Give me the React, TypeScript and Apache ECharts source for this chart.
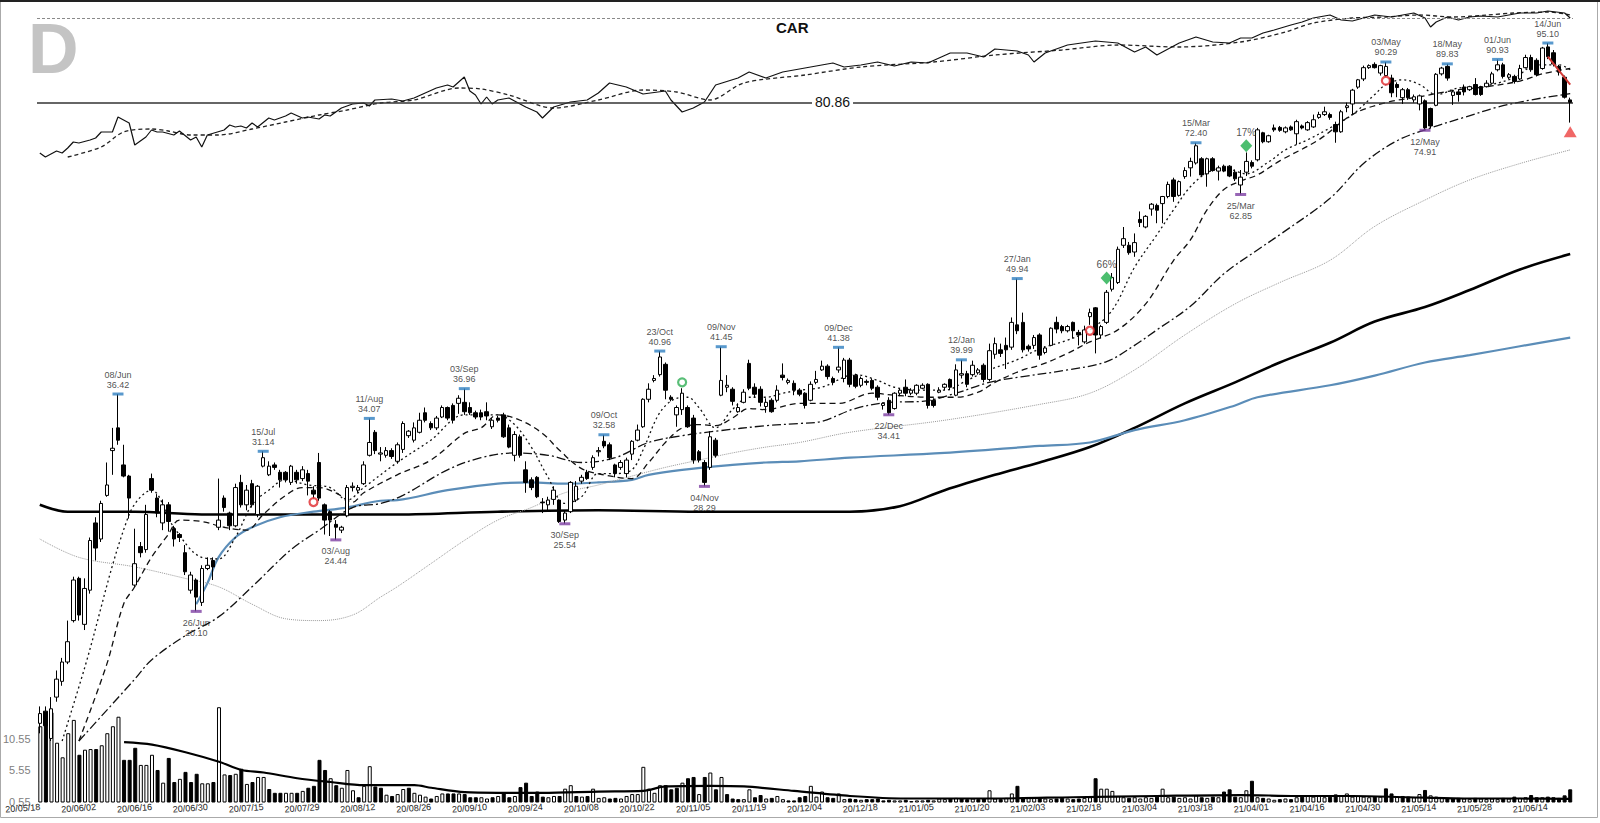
import React, { useEffect, useRef } from "react";
import * as echarts from "echarts";

const TICKER = "CAR";
const LAST_CLOSE = 80.86;
const HOLIDAYS = ["2020-05-25", "2020-07-03", "2020-09-07", "2020-11-26", "2020-12-25", "2021-01-01", "2021-01-18", "2021-02-15", "2021-04-02", "2021-05-31"];
const MONTHS = ["Jan", "Feb", "Mar", "Apr", "May", "Jun", "Jul", "Aug", "Sep", "Oct", "Nov", "Dec"];

// daily candles: [open, close, low, high]
const CANDLES: number[][] = [
  [14.8,15.2,14.4,15.5],[15.3,14.7,14.3,15.5],[14.2,15.4,14.1,15.9],[15.9,16.7,15.7,17.1],[16.6,17.5,16.4,17.7],
  [17.5,18.5,17.4,19.6],[19.6,21.9,19.5,22.1],[22.0,19.9,19.6,22.1],[19.4,21.4,19.1,22.0],[21.3,24.4,21.1,24.6],
  [25.6,23.9,23.1,26.0],[24.5,27.0,24.3,27.2],[27.6,28.4,27.5,30.2],[31.2,31.4,29.2,33.2],[33.2,32.1,31.7,36.42],
  [30.0,29.1,29.0,31.7],[29.1,27.4,25.9,29.2],[21.6,22.9,21.5,25.2],[24.0,23.6,23.3,24.3],[23.8,26.2,23.6,26.9],
  [28.9,28.0,27.8,29.3],[27.4,26.3,26.0,27.7],[25.6,26.9,25.1,27.3],[26.9,25.7,25.0,27.1],[25.2,24.5,24.0,25.4],
  [24.8,24.6,24.3,24.9],[23.6,22.4,22.2,24.1],[21.3,22.2,21.1,22.4],[21.9,20.9,20.1,22.0],[20.6,22.6,20.4,22.8],
  [22.6,22.8,22.5,23.3],[23.1,22.7,21.9,23.3],[25.3,25.8,25.1,28.9],[27.4,26.7,26.4,27.6],[26.3,25.4,25.1,26.4],
  [25.4,28.2,25.3,28.5],[28.6,26.9,26.7,29.2],[26.9,28.0,26.5,28.4],[28.5,26.9,26.7,28.8],[26.2,28.3,26.0,28.4],
  [29.9,30.6,29.8,31.14],[29.2,29.9,29.1,30.3],[30.0,29.8,29.6,30.2],[29.4,28.8,28.2,29.6],[29.4,28.8,28.6,29.5],
  [28.6,29.9,28.4,30.0],[29.4,28.8,28.5,29.6],[28.9,29.6,28.7,29.9],[29.3,28.7,27.6,29.6],[28.0,27.7,27.3,28.3],
  [30.2,27.4,27.2,31.0],[26.9,25.8,24.8,27.0],[26.4,25.8,24.7,26.5],[25.5,25.3,24.44,25.8],[25.1,25.3,24.9,25.4],
  [26.1,28.2,26.0,28.4],[28.2,28.3,27.9,28.6],[28.0,28.2,27.8,28.4],[28.5,30.0,28.4,30.3],[30.8,31.9,30.7,34.07],
  [32.8,31.2,30.9,33.0],[30.9,31.0,30.3,31.5],[30.8,31.2,30.6,31.5],[31.2,30.7,30.5,31.4],[30.3,31.7,30.1,31.9],
  [31.3,33.6,31.0,33.8],[32.5,32.9,32.3,33.0],[32.1,33.2,31.9,33.7],[32.8,33.9,32.7,34.6],[34.6,33.9,33.7,35.1],
  [33.6,33.2,33.0,33.8],[33.2,34.1,33.0,34.3],[34.2,35.1,34.1,35.3],[35.1,34.1,33.9,35.2],[35.3,33.9,33.6,35.5],
  [35.5,36.0,34.5,36.3],[35.6,34.7,34.4,36.96],[35.1,34.6,34.4,35.6],[34.6,34.2,34.0,34.8],[34.6,34.2,33.9,34.9],
  [34.7,34.3,33.9,35.6],[33.3,33.9,33.1,34.1],[34.1,33.9,33.7,34.3],[34.4,32.4,32.3,34.6],[33.2,31.5,31.4,33.5],
  [30.8,32.6,30.3,32.9],[32.4,30.8,30.6,32.6],[29.6,28.6,27.8,30.3],[28.8,28.2,28.0,29.0],[29.0,27.5,27.4,29.1],
  [27.1,27.05,26.3,27.4],[26.9,27.25,26.5,27.5],[27.3,28.0,26.9,28.3],[27.25,25.7,25.6,27.3],[25.8,26.3,25.54,26.5],
  [26.4,28.6,26.3,28.7],[27.25,28.3,27.1,28.7],[28.7,29.0,28.5,29.2],[29.4,28.9,28.8,29.6],[29.8,30.6,29.6,30.8],
  [31.1,31.2,30.7,31.5],[32.0,31.6,31.4,32.58],[31.7,30.6,30.4,31.9],[30.0,29.3,29.0,30.1],[29.8,30.2,29.6,30.4],
  [29.3,30.4,29.0,30.6],[30.9,32.0,30.4,32.1],[32.1,33.0,32.0,33.5],[33.3,35.9,33.2,36.0],[35.9,36.9,35.6,37.5],
  [37.8,38.0,37.6,38.35],[38.4,40.3,38.2,40.96],[39.5,36.8,35.9,39.7],[36.1,35.9,35.7,36.3],[34.4,35.1,33.3,35.3],
  [34.9,36.5,34.4,37.0],[35.1,33.3,33.2,35.3],[34.1,30.4,30.1,34.4],[31.1,30.4,30.2,31.25],[30.2,28.6,28.29,30.4],
  [29.8,32.4,29.6,32.9],[32.1,30.8,30.6,32.3],[36.3,37.8,36.2,41.45],[37.1,37.3,36.6,38.35],[36.9,35.7,35.3,37.1],
  [34.7,35.1,34.6,35.5],[35.6,36.6,35.5,36.9],[39.6,37.0,36.8,40.0],[37.1,36.4,36.1,37.5],[36.9,35.6,35.2,37.2],
  [35.2,35.6,34.6,36.0],[35.8,34.7,34.6,36.0],[35.8,36.8,35.6,37.3],[38.35,38.1,37.8,39.6],[37.6,37.8,37.4,38.0],
  [37.5,36.8,36.3,37.8],[36.8,36.4,36.2,37.0],[36.5,35.3,35.0,36.6],[35.8,37.4,35.7,37.7],[37.6,37.9,37.4,38.8],
  [38.9,39.3,38.8,39.9],[39.3,38.2,37.9,39.5],[38.0,37.6,37.3,38.2],[38.9,39.2,38.6,41.38],[38.0,39.96,37.6,40.2],
  [39.96,37.4,37.1,40.2],[38.35,37.2,37.0,38.5],[37.3,38.0,37.1,38.2],[37.7,37.6,37.3,37.9],[37.8,37.0,36.8,38.0],
  [37.1,36.1,35.8,37.3],[35.3,35.5,34.9,35.6],[35.8,34.6,34.41,36.1],[35.0,36.5,34.9,36.6],[36.5,36.8,36.2,37.0],
  [37.1,36.5,36.2,37.9],[36.5,36.8,36.3,37.0],[36.5,37.3,36.3,37.4],[37.0,37.3,36.9,37.5],[37.4,35.3,35.0,37.5],
  [35.8,35.3,35.1,36.0],[36.6,36.8,36.5,37.1],[37.1,37.4,36.8,37.5],[37.9,37.1,36.8,38.0],[36.3,38.9,36.2,39.5],
  [38.35,38.5,38.0,39.99],[38.5,37.4,37.1,38.8],[38.4,39.4,38.2,39.9],[38.6,38.9,38.4,39.1],[39.4,37.9,37.6,39.6],
  [37.9,41.0,37.7,41.8],[40.6,41.8,40.1,42.5],[41.1,40.7,40.3,41.8],[41.6,41.1,39.0,42.5],[41.4,44.3,41.1,44.9],
  [44.0,43.3,42.9,49.94],[44.3,41.1,40.8,45.5],[41.5,41.2,40.9,41.7],[41.6,42.5,41.2,42.8],[42.8,40.5,40.0,43.0],
  [40.8,41.3,40.6,41.5],[41.6,43.6,41.5,43.7],[44.3,43.5,43.0,45.0],[43.8,43.3,43.0,44.0],[43.3,43.8,43.1,44.0],
  [44.3,43.3,42.4,44.4],[43.1,42.8,41.6,43.4],[42.0,43.4,41.8,43.9],[45.0,45.5,44.0,46.0],[46.1,42.8,40.7,46.2],
  [42.8,43.8,42.4,44.0],[44.3,48.1,44.1,48.4],[48.5,50.1,48.2,50.7],[49.4,54.1,49.2,54.5],[54.7,55.7,54.3,57.5],
  [54.7,53.6,53.3,55.2],[53.7,55.1,53.0,56.5],[58.7,58.2,57.5,60.0],[57.5,59.2,57.3,59.4],[60.4,61.2,59.3,61.4],
  [61.0,60.2,58.1,61.3],[61.3,62.5,58.1,62.6],[62.5,64.6,62.2,65.1],[65.4,62.5,61.6,65.8],[62.7,65.1,62.5,65.3],
  [66.0,67.1,65.6,67.7],[67.6,68.8,66.0,69.5],[68.5,71.8,68.2,72.40],[69.3,66.3,66.1,69.6],[66.5,69.3,64.2,69.5],
  [69.3,67.1,66.9,69.6],[67.0,67.6,65.3,68.0],[67.9,67.0,66.8,68.2],[67.9,66.1,65.9,68.1],[66.8,65.6,65.2,67.3],
  [64.5,65.9,62.85,67.2],[66.8,68.8,66.1,70.5],[68.6,67.9,67.5,69.0],[69.1,75.0,68.8,75.4],[74.4,72.6,72.3,74.6],
  [72.6,73.8,72.4,74.0],[75.4,75.0,74.6,76.1],[75.5,74.9,74.6,75.8],[74.6,75.4,74.3,75.7],[75.6,75.0,74.8,75.9],
  [74.2,76.7,72.0,77.1],[75.8,75.4,75.1,76.1],[75.0,76.5,74.8,76.8],[75.6,77.1,75.4,78.2],[77.6,78.2,77.3,78.8],
  [78.2,78.8,77.9,79.9],[78.2,77.6,77.1,78.6],[76.1,74.6,72.4,76.7],[74.6,78.8,74.4,79.2],[79.7,80.1,78.7,80.8],
  [80.5,83.6,78.2,83.9],[84.3,86.0,83.9,86.2],[86.2,88.9,85.7,89.4],[88.9,89.4,88.6,89.7],[89.7,88.9,88.7,90.2],
  [87.6,89.4,87.0,89.6],[87.0,89.2,86.5,90.29],[86.4,83.0,82.0,87.2],[84.9,84.2,82.0,85.4],[81.9,83.7,80.5,84.1],
  [83.7,81.9,81.4,84.1],[81.4,82.1,80.8,82.6],[80.5,82.3,79.1,82.6],[81.2,75.4,74.91,81.5],[79.5,75.8,75.3,79.7],
  [80.2,87.3,80.0,87.6],[87.4,88.8,87.0,89.1],[89.2,86.4,85.8,89.83],[82.4,83.2,80.3,83.7],[83.2,82.6,81.0,83.7],
  [84.3,83.2,82.4,84.9],[83.7,84.4,83.4,84.6],[84.9,82.6,82.4,86.4],[84.4,82.6,82.3,84.6],[84.4,85.2,84.2,85.9],
  [85.2,87.4,84.9,87.9],[88.4,89.6,88.0,90.93],[89.6,86.8,86.3,90.1],[86.6,87.2,86.2,87.6],[86.8,85.6,85.1,87.2],
  [86.2,88.7,85.9,89.6],[88.9,91.4,88.7,92.1],[91.4,88.4,87.9,92.1],[90.7,87.2,86.8,91.2],[88.7,93.8,88.4,94.1],
  [94.1,91.6,91.0,95.10],[92.6,89.8,89.2,93.3],[89.2,87.8,87.0,89.6],[86.6,82.0,81.7,87.0],[81.4,80.86,76.5,81.9],
];

// daily volume (millions)
const VOLUME: number[] = [
  12.5,13.0,14.7,9.9,7.6,11.4,13.5,8.0,8.8,8.9,
  8.9,9.5,11.4,12.5,14.0,7.2,7.2,9.1,6.4,6.4,
  8.0,5.6,3.6,7.5,3.7,4.2,5.3,3.7,5.0,3.5,
  3.5,3.7,15.5,4.9,4.8,5.0,5.8,3.4,3.7,4.5,
  4.5,2.6,2.0,2.0,2.0,2.0,2.0,2.3,2.8,3.1,
  7.2,5.6,4.3,3.2,2.8,5.6,2.4,1.3,3.1,6.2,
  3.0,2.8,1.7,1.5,1.8,2.6,2.8,2.0,1.7,1.4,
  1.1,1.5,1.9,1.9,1.9,1.9,1.8,1.3,1.3,1.3,
  1.1,1.3,1.5,1.9,1.3,1.5,2.9,3.6,1.5,2.2,
  1.4,1.3,1.5,1.5,2.65,3.2,1.5,1.4,1.5,2.65,
  1.2,1.3,1.1,1.2,1.1,1.5,1.8,1.8,6.1,2.65,
  2.0,3.2,3.2,2.55,2.8,3.6,4.3,4.5,1.8,4.5,
  5.2,2.55,4.5,1.8,1.1,1.0,1.0,2.55,1.3,1.65,
  1.1,1.2,1.5,1.0,0.8,0.8,1.3,1.5,3.1,1.4,
  2.2,1.3,1.2,1.9,1.0,1.1,1.0,0.9,1.0,1.0,
  1.1,0.8,0.9,0.8,0.8,0.9,0.7,0.8,0.8,0.9,
  0.8,1.1,1.0,1.1,1.2,1.1,1.0,1.1,1.0,1.1,
  2.4,1.1,1.0,1.2,1.9,3.1,1.2,1.2,1.3,1.2,
  1.1,1.0,1.1,1.2,1.1,1.0,1.1,1.2,1.3,4.3,
  2.65,2.65,2.3,1.5,1.3,1.2,1.3,1.1,1.3,1.2,
  1.4,2.65,1.3,1.4,1.2,1.3,1.1,1.6,1.3,1.2,
  1.4,1.3,2.2,2.55,1.4,1.3,2.4,3.9,1.3,1.2,
  1.1,0.9,1.0,1.1,1.0,1.3,1.4,1.5,1.4,1.6,
  1.3,1.4,1.75,1.5,1.9,1.4,1.5,1.4,1.3,1.4,
  1.4,2.7,1.9,1.4,1.5,1.4,1.3,1.8,2.45,1.6,
  1.4,1.3,1.2,1.1,1.2,1.1,1.0,1.2,1.1,1.0,
  1.1,1.0,1.2,1.1,1.4,1.2,1.3,1.65,1.3,1.3,
  1.4,1.3,1.2,1.6,2.55,
];

// volume average [day index, value]
const VOL_AVG: number[][] = [[15,10.0],[20,9.6],[26,8.4],[32,6.9],[36,5.6],[40,5.2],[46,4.3],[52,3.7],[58,3.2],[67,3.2],[70,2.8],[76,2.1],[82,2.0],[90,2.0],[100,2.2],[108,2.3],[112,3.0],[120,3.1],[126,3.0],[135,2.3],[145,1.5],[155,1.1],[170,1.1],[185,1.3],[200,1.5],[215,1.65],[225,1.5],[235,1.5],[245,1.3],[255,1.1],[265,1.1],[274,1.05]];

// moving averages [day index, price]
const MA_FAST: number[][] = [[4,14.1],[8,17.2],[16,26.2],[20,28.0],[24,25.3],[29,23.3],[32,23.2],[35,24.6],[38,26.9],[41,28.0],[44,28.8],[48,28.4],[52,28.2],[55,27.25],[58,28.2],[64,30.2],[70,32.1],[76,34.4],[82,34.4],[85,33.5],[88,31.5],[91,29.0],[94,27.0],[97,27.5],[100,29.3],[103,29.3],[106,29.6],[108,31.25],[111,34.6],[114,36.0],[116,36.1],[118,35.1],[121,33.2],[124,34.9],[127,36.1],[130,36.1],[133,36.5],[136,36.8],[140,37.1],[146,38.4],[150,37.8],[153,37.1],[158,36.8],[162,36.8],[166,37.8],[170,38.9],[175,40.0],[179,41.2],[184,42.2],[188,43.4],[192,45.8],[196,51.5],[200,56.3],[203,60.3],[206,64.2],[209,66.7],[212,67.6],[216,66.5],[220,68.7],[223,71.0],[227,73.0],[231,75.4],[235,78.2],[239,82.6],[241,84.9],[244,86.0],[247,84.9],[250,82.6],[254,84.1],[258,84.4],[264,86.5],[268,89.6],[272,89.6],[274,88.4]];
const MA_MID: number[][] = [[7,14.1],[12,17.4],[15,20.5],[17,21.5],[20,23.3],[23,24.8],[25,25.8],[29,25.7],[33,25.3],[37,25.1],[40,26.2],[44,27.6],[47,28.2],[50,28.2],[53,27.8],[56,27.1],[58,27.8],[64,29.2],[70,30.4],[76,32.7],[79,33.2],[82,34.4],[86,33.9],[90,32.7],[93,31.25],[97,29.7],[101,29.2],[106,28.9],[109,30.2],[112,31.9],[115,33.2],[118,33.5],[121,33.4],[124,34.1],[127,35.0],[130,34.9],[136,35.5],[143,35.5],[149,36.5],[153,36.3],[159,36.1],[164,36.1],[168,36.6],[171,37.6],[176,38.9],[179,39.4],[184,40.7],[188,42.0],[193,43.4],[198,46.6],[203,52.5],[206,55.5],[209,60.3],[212,63.7],[215,65.2],[218,66.3],[222,68.9],[229,73.0],[235,78.2],[241,80.8],[247,82.1],[253,83.5],[259,84.4],[265,85.7],[269,87.4],[274,88.7]];
const MA_SLOW: number[][] = [[7,14.1],[17,16.7],[20,17.6],[26,18.8],[32,19.8],[38,21.5],[45,23.8],[50,25.1],[56,26.7],[61,27.0],[65,27.6],[73,29.6],[79,30.6],[85,31.0],[91,30.8],[97,30.2],[103,30.6],[109,31.9],[115,32.5],[121,32.9],[130,33.4],[136,33.6],[140,33.8],[146,35.0],[152,35.6],[158,35.7],[164,36.5],[170,37.6],[176,38.2],[184,38.9],[191,39.8],[196,41.6],[200,43.4],[206,46.3],[212,50.6],[218,54.0],[222,56.3],[231,62.2],[237,68.4],[243,72.8],[249,75.4],[255,77.6],[261,79.8],[267,81.4],[274,82.8]];
const MA_LONG: number[][] = [[0,24.5],[7,23.3],[17,22.7],[26,22.0],[32,21.5],[38,20.5],[44,19.7],[50,19.6],[56,19.9],[61,20.9],[64,21.5],[70,22.9],[76,24.4],[82,25.8],[88,26.7],[94,27.8],[100,28.4],[106,29.1],[112,29.8],[118,30.4],[124,31.0],[130,31.5],[136,31.9],[145,32.8],[162,33.9],[179,35.4],[188,36.5],[196,38.9],[205,42.8],[214,46.6],[222,49.4],[231,52.5],[239,57.6],[248,61.9],[256,65.4],[265,68.4],[274,71.0]];
const MA_BLUE: number[][] = [[28,20.5],[30,21.7],[32,23.3],[35,24.6],[38,25.3],[43,26.0],[49,26.4],[55,26.7],[61,27.2],[64,27.25],[73,28.0],[82,28.5],[88,28.6],[94,28.5],[100,28.6],[106,28.8],[109,29.2],[115,29.6],[124,30.0],[130,30.2],[136,30.3],[145,30.6],[162,31.0],[179,31.6],[188,31.9],[196,33.0],[205,33.9],[214,35.3],[218,36.1],[231,37.3],[239,38.3],[248,39.7],[256,40.5],[265,41.5],[274,42.5]];
const MA_200: number[][] = [[0,26.9],[5,26.4],[17,26.4],[29,26.2],[48,26.2],[64,26.2],[82,26.4],[100,26.5],[118,26.4],[136,26.4],[145,26.4],[154,26.8],[162,28.0],[171,29.2],[179,30.2],[188,31.5],[196,33.2],[205,35.5],[214,37.6],[222,39.7],[231,41.9],[239,44.4],[248,46.2],[256,48.4],[265,51.2],[274,53.4]];

// relative-strength line and its average [day index, RS]
const RS_LINE: number[][] = [[0,47],[1,43],[3,49],[4,47],[5,52],[6,58],[7,57],[9,60],[10,62],[11,68],[13,68],[14,83],[16,77],[17,55],[19,63],[20,70],[21,68],[22,68],[24,65],[25,69],[27,60],[28,63],[29,53],[30,65],[33,70],[34,75],[35,73],[36,74],[37,72],[38,77],[39,73],[41,82],[42,80],[44,84],[45,87],[47,82],[48,83],[50,81],[51,85],[52,84],[53,88],[54,92],[56,96],[58,97],[59,94],[60,100],[63,101],[65,99],[67,102],[69,107],[71,112],[73,115],[74,113],[76,123],[77,109],[78,105],[79,96],[80,103],[81,96],[82,100],[84,102],[87,93],[89,88],[90,82],[92,93],[95,98],[98,100],[100,107],[102,117],[105,113],[108,106],[112,109],[113,100],[115,88],[117,92],[119,98],[121,115],[125,122],[127,128],[130,122],[133,128],[138,133],[142,137],[144,133],[147,135],[150,138],[153,134],[156,138],[159,137],[163,147],[166,147],[169,143],[171,151],[175,149],[177,145],[178,138],[180,147],[184,155],[189,159],[193,157],[196,148],[198,153],[200,145],[204,157],[207,163],[210,158],[213,157],[215,162],[217,162],[219,167],[221,170],[224,175],[226,178],[228,182],[231,185],[233,180],[235,179],[237,182],[239,185],[242,183],[244,185],[246,187],[248,182],[249,173],[250,178],[252,183],[254,180],[256,183],[258,184],[261,183],[263,185],[265,187],[268,187],[270,189],[273,187],[274,182]];
const RS_AVG: number[][] = [[5,43],[11,53],[15,68],[20,71],[23,69],[27,65],[32,65],[38,71],[44,78],[50,85],[55,90],[61,97],[67,100],[75,112],[79,111],[84,105],[92,92],[100,100],[108,110],[114,108],[120,100],[126,117],[137,125],[147,133],[160,138],[171,145],[183,150],[193,155],[204,153],[215,158],[223,168],[228,177],[235,182],[241,183],[247,185],[253,183],[259,185],[264,187],[270,188],[274,185]];
const RS_REF = 182;

// annotations
const HIGH_IDX = [14, 40, 59, 76, 101, 111, 122, 143, 165, 175, 207, 241, 252, 261, 270];
const LOW_IDX = [28, 53, 94, 119, 152, 215, 248];
const SELL_SIGNALS: number[][] = [[49, 27.1], [188, 43.3], [241, 85.8]];
const BUY_SIGNALS: number[][] = [[115, 37.6]];
const BREAKOUTS: (number | string)[][] = [[191, 50.0, "66%"], [216, 71.8, "17%"]];
const ALERTS: number[][] = [[274, 74.6]];
const TREND: number[][] = [[270, 91.6], [274, 84.9]];

const FONT = "'Liberation Sans', Arial, sans-serif";

function buildDates(n: number): string[] {
  const out: string[] = [];
  let t = Date.UTC(2020, 4, 18);
  while (out.length < n) {
    const d = new Date(t);
    const iso = d.toISOString().slice(0, 10);
    const dow = d.getUTCDay();
    if (dow !== 0 && dow !== 6 && HOLIDAYS.indexOf(iso) < 0) out.push(iso);
    t += 86400000;
  }
  return out;
}

function shortDate(iso: string): string {
  return iso.slice(8, 10) + "/" + MONTHS[parseInt(iso.slice(5, 7), 10) - 1];
}

export default function App() {
  const ref = useRef<HTMLDivElement>(null);

  useEffect(() => {
    if (!ref.current) return;
    const chart = echarts.init(ref.current, undefined, { renderer: "svg" });
    const dates = buildDates(CANDLES.length);
    const L = 37;
    const W = 1536;

    const volData = VOLUME.map((v, i) => {
      const prev = i === 0 ? CANDLES[0][0] : CANDLES[i - 1][1];
      const up = CANDLES[i][1] >= prev;
      return {
        value: v,
        itemStyle: up
          ? { color: "#ffffff", borderColor: "#000000", borderWidth: 1 }
          : { color: "#000000", borderColor: "#000000", borderWidth: 1 },
      };
    });

    const highData = HIGH_IDX.map((i) => [i, CANDLES[i][3], shortDate(dates[i]) + "\n" + CANDLES[i][3].toFixed(2)]);
    const lowData = LOW_IDX.map((i) => [i, CANDLES[i][2], shortDate(dates[i]) + "\n" + CANDLES[i][2].toFixed(2)]);

    const maLine = (data: number[][], color: string, width: number, type: any, z = 3) => ({
      type: "line",
      xAxisIndex: 0,
      yAxisIndex: 0,
      data,
      smooth: 0.35,
      showSymbol: false,
      symbol: "none",
      silent: true,
      z,
      lineStyle: { color, width, type },
    });

    const option: any = {
      animation: false,
      backgroundColor: "#ffffff",
      grid: [
        { left: L, width: W, top: 0, height: 802 },
        { left: L, width: W, top: 643.5, height: 158.5 },
        { left: L, width: W, top: 0, height: 200 },
      ],
      xAxis: [
        { type: "category", gridIndex: 0, data: dates, boundaryGap: true, show: false },
        {
          type: "category",
          gridIndex: 1,
          data: dates,
          boundaryGap: true,
          axisLine: { show: false },
          axisTick: { show: false },
          axisLabel: {
            interval: (index: number) => index % 10 === 0,
            formatter: (v: string) => v.slice(2).replace(/-/g, "/"),
            rotate: 4,
            margin: 5,
            fontSize: 9,
            color: "#222222",
            fontFamily: FONT,
          },
        },
        { type: "category", gridIndex: 2, data: dates, boundaryGap: true, show: false },
      ],
      yAxis: [
        { type: "log", gridIndex: 0, logBase: 10, min: 11.935, max: 106.97, show: false },
        {
          type: "value",
          gridIndex: 1,
          min: 0.55,
          max: 25.55,
          interval: 5,
          splitLine: { show: false },
          axisLine: { show: false },
          axisTick: { show: false },
          axisLabel: {
            formatter: (v: number) => (v < 11 ? v.toFixed(2) : ""),
            color: "#808080",
            fontSize: 11,
            margin: 7,
            fontFamily: FONT,
          },
        },
        { type: "value", gridIndex: 2, min: 0, max: 200, show: false },
      ],
      series: [
        {
          type: "bar",
          xAxisIndex: 1,
          yAxisIndex: 1,
          data: volData,
          barWidth: 4,
          z: 1,
          silent: true,
        },
        {
          type: "line",
          xAxisIndex: 1,
          yAxisIndex: 1,
          data: VOL_AVG,
          smooth: 0.3,
          showSymbol: false,
          z: 2,
          lineStyle: { color: "#000", width: 2.2 },
        },
        maLine(MA_200, "#000000", 2.6, "solid", 2),
        maLine(MA_BLUE, "#5b8db8", 2.2, "solid", 2),
        maLine(MA_LONG, "#9a9a9a", 1, "dotted", 2),
        maLine(MA_SLOW, "#111111", 1.3, [9, 3, 2, 3]),
        maLine(MA_MID, "#111111", 1.3, [6, 4]),
        maLine(MA_FAST, "#111111", 1.3, [2, 3]),
        {
          type: "candlestick",
          xAxisIndex: 0,
          yAxisIndex: 0,
          data: CANDLES,
          barWidth: 4,
          z: 5,
          itemStyle: {
            color: "#ffffff",
            color0: "#000000",
            borderColor: "#000000",
            borderColor0: "#000000",
            borderWidth: 1,
          },
          markLine: {
            silent: true,
            symbol: "none",
            label: { show: false },
            lineStyle: { color: "#333333", width: 1.6, type: "solid" },
            data: [{ yAxis: LAST_CLOSE }],
          },
        },
        {
          type: "line",
          xAxisIndex: 0,
          yAxisIndex: 0,
          data: TREND,
          showSymbol: false,
          z: 6,
          lineStyle: { color: "#d23a36", width: 2 },
        },
        {
          type: "scatter",
          xAxisIndex: 0,
          yAxisIndex: 0,
          data: highData,
          symbol: "rect",
          symbolSize: [11, 3],
          z: 7,
          itemStyle: { color: "#2f7fc1" },
          label: {
            show: true,
            position: "top",
            distance: 3,
            formatter: (p: any) => p.data[2],
            fontSize: 9,
            lineHeight: 10,
            color: "#222",
            fontFamily: FONT,
          },
        },
        {
          type: "scatter",
          xAxisIndex: 0,
          yAxisIndex: 0,
          data: lowData,
          symbol: "rect",
          symbolSize: [11, 3],
          z: 7,
          itemStyle: { color: "#7d3fa3" },
          label: {
            show: true,
            position: "bottom",
            distance: 5,
            formatter: (p: any) => p.data[2],
            fontSize: 9,
            lineHeight: 10,
            color: "#222",
            fontFamily: FONT,
          },
        },
        {
          type: "scatter",
          xAxisIndex: 0,
          yAxisIndex: 0,
          data: SELL_SIGNALS,
          symbol: "circle",
          symbolSize: 8,
          z: 8,
          itemStyle: { color: "#ffffff", borderColor: "#e0282c", borderWidth: 2.2 },
        },
        {
          type: "scatter",
          xAxisIndex: 0,
          yAxisIndex: 0,
          data: BUY_SIGNALS,
          symbol: "circle",
          symbolSize: 8,
          z: 8,
          itemStyle: { color: "#ffffff", borderColor: "#2fae55", borderWidth: 2.2 },
        },
        {
          type: "scatter",
          xAxisIndex: 0,
          yAxisIndex: 0,
          data: BREAKOUTS,
          symbol: "diamond",
          symbolSize: [12, 13],
          z: 8,
          itemStyle: { color: "#1fae4b" },
          label: {
            show: true,
            position: "top",
            distance: 2,
            formatter: (p: any) => p.data[2],
            fontSize: 10,
            color: "#222",
            fontFamily: FONT,
          },
        },
        {
          type: "scatter",
          xAxisIndex: 0,
          yAxisIndex: 0,
          data: ALERTS,
          symbol: "triangle",
          symbolSize: [13, 11],
          z: 8,
          itemStyle: { color: "#ec4140" },
        },
        {
          type: "line",
          xAxisIndex: 2,
          yAxisIndex: 2,
          data: RS_AVG,
          smooth: 0.3,
          showSymbol: false,
          z: 3,
          lineStyle: { color: "#222", width: 1.3, type: [4, 3] },
          markLine: {
            silent: true,
            symbol: "none",
            label: { show: false },
            lineStyle: { color: "#8a8a8a", width: 1, type: [3, 2] },
            data: [{ yAxis: RS_REF }],
          },
        },
        {
          type: "line",
          xAxisIndex: 2,
          yAxisIndex: 2,
          data: RS_LINE,
          showSymbol: false,
          z: 3,
          lineStyle: { color: "#111", width: 1.2 },
        },
      ],
      graphic: [
        { type: "rect", shape: { x: 0.5, y: 0.5, width: 1597, height: 817 }, style: { fill: "none", stroke: "#aaaaaa", lineWidth: 1 }, silent: true },
        { type: "line", shape: { x1: 0, y1: 1, x2: 1600, y2: 1 }, style: { stroke: "#222", lineWidth: 2 }, silent: true },
        { type: "text", left: 28, top: 14, style: { text: "D", fill: "#c4c4c4", font: "bold 70px " + FONT }, silent: true },
        { type: "text", left: 776, top: 20, style: { text: TICKER, fill: "#111", font: "bold 15px " + FONT }, silent: true },
        {
          type: "text",
          left: 812,
          top: 95,
          z: 20,
          style: { text: LAST_CLOSE.toFixed(2), fill: "#111", font: "14px " + FONT, backgroundColor: "#fff", padding: [0, 3] },
          silent: true,
        },
      ],
    };

    chart.setOption(option);
    return () => chart.dispose();
  }, []);

  return <div ref={ref} style={{ position: "fixed", left: 0, top: 0, width: 1600, height: 823, background: "#fff" }} />;
}
